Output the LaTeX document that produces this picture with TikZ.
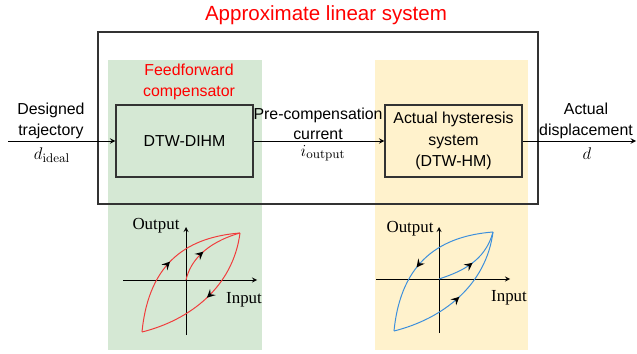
\documentclass[tikz,border=0pt]{standalone}
\usepackage{amsmath}
\usepackage[no-math]{fontspec}
\setmainfont{Liberation Sans}
\newfontfamily\plotfont{Liberation Serif}
\usepackage{xcolor}
\usepackage{tikz}
\usetikzlibrary{arrows, positioning, calc, decorations.markings}

\definecolor{ffgreen}{HTML}{D5E8D4}
\definecolor{hyyellow}{HTML}{FFF2CC}
\definecolor{loopred}{HTML}{F03C3C}
\definecolor{loopblue}{HTML}{3C8FDC}
\definecolor{framegray}{HTML}{333333}

\begin{document}
\begin{tikzpicture}[x=0.025cm, y=-0.025cm, font=\fontsize{11.3}{14.5}\selectfont]
\tikzstyle{block} = [rectangle, draw=framegray, line width=0.9pt, minimum width=3.425cm, minimum height=1.8cm, text centered, align=center]
\tikzstyle{sig} = [align=center]
\tikzstyle{mathsig} = [font=\fontsize{13}{15}\selectfont]
\tikzstyle{arrow} = [->, >=stealth, line width=0.7pt]
\tikzstyle{axis} = [->, >=stealth, line width=0.6pt]
\tikzstyle{plotlabel} = [font=\plotfont\fontsize{12}{14}\selectfont]
\tikzset{midarrow/.style={postaction={decorate, decoration={markings, mark=at position #1 with {\arrow[black, scale=1.5]{stealth}}}}}}

\useasboundingbox (0,0) rectangle (637,354);

% Backgrounds
\fill[ffgreen] (108,60) rectangle (262,350);
\fill[hyyellow] (375,60) rectangle (528,350);

% Approximate linear system
\draw[framegray, line width=1.4pt] (98,32) rectangle (538,204);
\node[anchor=base, text=red, font=\fontsize{14.6}{17}\selectfont] (title) at (326,21) {Approximate linear system};

% Blocks
\node[sig, text=red] (ff) at (189,82) {Feedforward\\compensator};
\node[block, fill=ffgreen] (dihm) at (184.5,141) {DTW-DIHM};
\node[block, fill=hyyellow, font=\fontsize{11.3}{15.5}\selectfont] (hm) at (453.5,141) {Actual hysteresis\\system\\(DTW-HM)};

% Signals
\coordinate (in) at (8,141);
\coordinate (out) at (636,141);
\draw[arrow] (in) -- (dihm);
\draw[arrow] (dihm) -- (hm);
\draw[arrow] (hm) -- (out);

\node[sig] (trajtxt) at (51,121) {Designed\\trajectory};
\node[mathsig] (dideal) at (52,155) {$d_{\mathrm{ideal}}$};
\node[sig] (currtxt) at (318,124) {Pre-compensation\\current};
\node[mathsig] (iout) at (323,153) {$i_{\mathrm{output}}$};
\node[sig] (disptxt) at (586,121) {Actual\\displacement};
\node[mathsig] (dout) at (587,154) {$d$};

% Inverse hysteresis loop
\coordinate (o1) at (186,280);
\coordinate (ll1) at (142,332);
\coordinate (ur1) at (240,233);
\draw[axis] (123,280) -- (257,280);
\draw[axis] (186,335) -- (186,227);
\node[plotlabel] (out1) at (156,226) {Output};
\node[plotlabel] (in1) at (244,300) {Input};
\draw[loopred, line width=0.7pt, midarrow=0.5] (ll1) .. controls (149,260) and (190,237) .. (ur1);
\draw[loopred, line width=0.7pt, midarrow=0.5] (ur1) .. controls (233,287) and (190,320) .. (ll1);
\draw[loopred, line width=0.7pt, midarrow=0.45] (o1) .. controls (190,262) and (205,243) .. (ur1);

% Hysteresis loop
\coordinate (o2) at (439,279);
\coordinate (ll2) at (394,331);
\coordinate (ur2) at (493,232);
\draw[axis] (376,279) -- (510,279);
\draw[axis] (439,333) -- (439,227);
\node[plotlabel] (out2) at (410,229) {Output};
\node[plotlabel] (in2) at (509,298) {Input};
\draw[loopblue, line width=0.7pt, midarrow=0.56] (ur2) .. controls (442,236) and (401,260) .. (ll2);
\draw[loopblue, line width=0.7pt, midarrow=0.5] (ll2) .. controls (442,319) and (486,286) .. (ur2);
\draw[loopblue, line width=0.7pt, midarrow=0.5] (o2) .. controls (460,272) and (485,262) .. (ur2);
\end{tikzpicture}
\end{document}
